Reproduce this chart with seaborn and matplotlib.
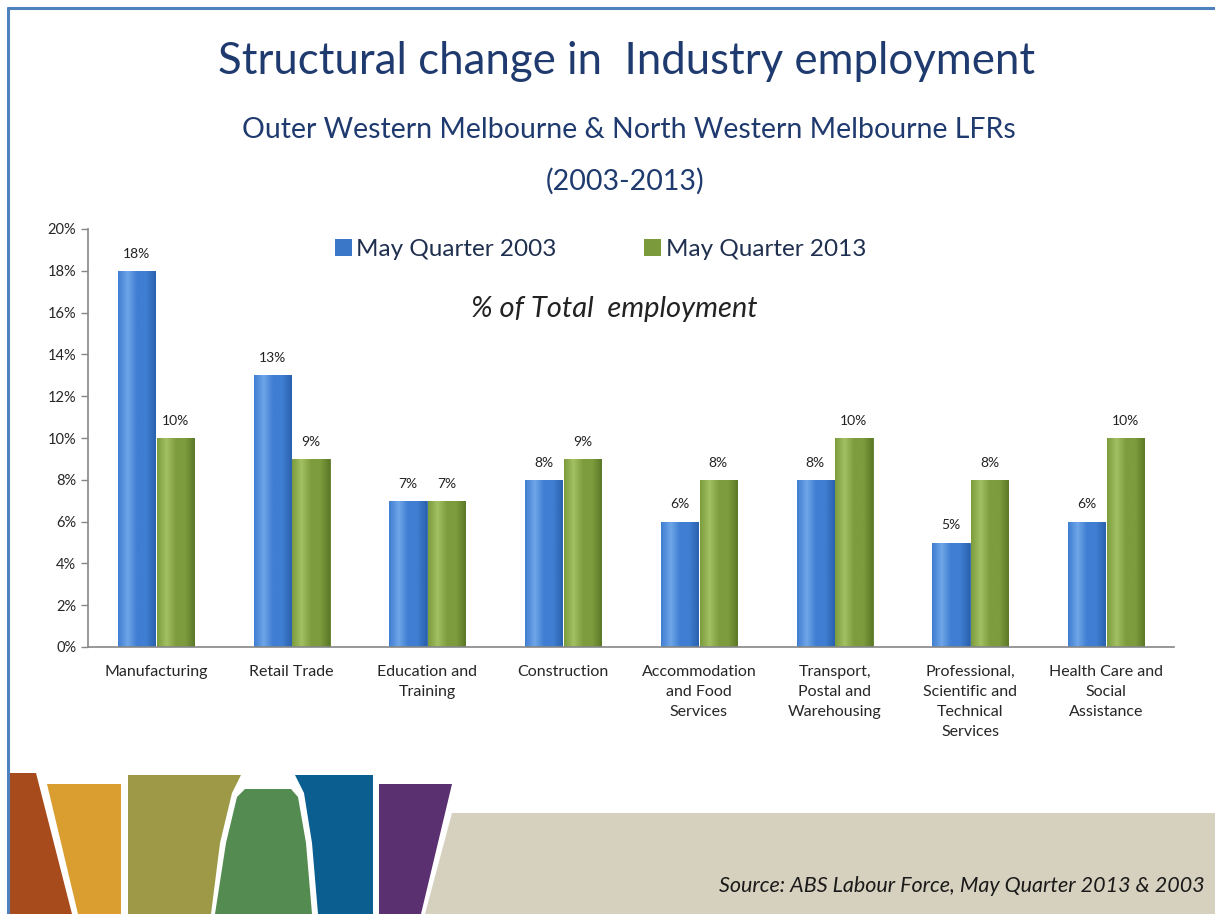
import matplotlib
matplotlib.use("Agg")
import matplotlib.pyplot as plt
import matplotlib.ticker as mtick
from matplotlib.patches import Polygon
from matplotlib.lines import Line2D
import numpy as np
import pandas as pd
import seaborn as sns

# data (% of total employment)
industries = ["Manufacturing", "Retail Trade", "Education and\nTraining", "Construction",
              "Accommodation\nand Food\nServices", "Transport,\nPostal and\nWarehousing",
              "Professional,\nScientific and\nTechnical\nServices", "Health Care and\nSocial\nAssistance"]
may_2003 = [18, 13, 7, 8, 6, 8, 5, 6]
may_2013 = [10, 9, 7, 9, 8, 10, 8, 10]
series_names = ["May Quarter 2003", "May Quarter 2013"]

W, H = 1215, 914

sns.set_theme(style="white")
plt.rcParams['font.family'] = ['Lato', 'DejaVu Sans']

df = pd.DataFrame({
    "Industry": industries * 2,
    "Share": [v / 100 for v in may_2003 + may_2013],
    "Series": [series_names[0]] * len(industries) + [series_names[1]] * len(industries),
})

fig = plt.figure(figsize=(W / 100, H / 100), dpi=100)
ax = fig.add_axes([88 / W, 1 - 647 / H, (1174 - 88) / W, (647 - 229) / H])

sns.barplot(data=df, x="Industry", y="Share", hue="Series", ax=ax,
            palette=["#3A77C8", "#7A9A3B"], width=0.57, gap=0.04,
            edgecolor="none", saturation=1)

# excel-like shading on the bars
shades = {0: ["#6FA6E8", "#3F7ED2", "#2B62AE"], 1: ["#A3C164", "#7D9C3D", "#5C7A27"]}
for ci, cont in enumerate(ax.containers):
    for p in cont.patches:
        x0, y0 = p.get_x(), p.get_y()
        w, h = p.get_width(), p.get_height()
        c = shades[ci]
        cmap = matplotlib.colors.LinearSegmentedColormap.from_list("s", [c[1], c[0], c[1], c[1], c[2]])
        grad = np.linspace(0, 1, 64).reshape(1, -1)
        im = ax.imshow(grad, extent=(x0, x0 + w, y0, y0 + h), aspect="auto", cmap=cmap,
                       origin="lower", zorder=p.get_zorder() + 0.1)
        im.set_clip_path(p)
        p.set_edgecolor(c[2])
        p.set_linewidth(0.6)

for ci, cont in enumerate(ax.containers):
    vals = may_2003 if ci == 0 else may_2013
    ax.bar_label(cont, labels=[f"{v}%" for v in vals], padding=8, fontsize=10, color="#222222")

ax.set_xlim(-0.5, len(industries) - 0.5)
ax.set_ylim(0, 0.20)
ax.yaxis.set_major_locator(mtick.MultipleLocator(0.02))
ax.yaxis.set_major_formatter(mtick.PercentFormatter(1.0, decimals=0))
ax.set_xlabel("")
ax.set_ylabel("")
ax.set_xticks(range(len(industries)))
ax.set_xticklabels(industries, fontsize=11.5, linespacing=1.55, va="top")
ax.set_xticks(np.arange(-0.5, len(industries), 1), minor=True)
ax.tick_params(axis="x", which="major", length=0, pad=13)
ax.tick_params(axis="x", which="minor", length=6, width=1, color="#868686", direction="out")
ax.tick_params(axis="y", length=5, width=1, color="#868686", direction="out", labelsize=10.5, left=True)
for s in ["top", "right"]:
    ax.spines[s].set_visible(False)
for s in ["left", "bottom"]:
    ax.spines[s].set_color("#868686")
    ax.spines[s].set_linewidth(1.2)

leg = ax.legend(loc="center", bbox_to_anchor=(0.472, 0.95), ncol=2, frameon=False,
                fontsize=17.5, handlelength=0.7, handleheight=0.7, handletextpad=0.2,
                columnspacing=3.6)
for t in leg.get_texts():
    t.set_color("#1F2F4F")

ax.text(0.485, 0.809, "% of Total  employment", transform=ax.transAxes, ha="center", va="center",
        fontsize=21, style="italic", color="#222222")

navy = "#1F3A6E"
fig.text(627 / W, 1 - 62 / H, "Structural change in  Industry employment", ha="center", va="center",
         fontsize=31.5, color=navy)
fig.text(629 / W, 1 - 130 / H, "Outer Western Melbourne & North Western Melbourne LFRs", ha="center",
         va="center", fontsize=20.5, color=navy)
fig.text(625 / W, 1 - 181 / H, "(2003-2013)", ha="center", va="center", fontsize=20.5, color=navy)

# decorative footer shapes (pixel coords, y from top)
def px(points):
    return [(x / W, 1 - y / H) for x, y in points]

shapes = [
    ([(8, 773), (36, 773), (72, 914), (8, 914)], "#A84B1C"),
    ([(47, 784), (121, 784), (121, 914), (78, 914)], "#D99E2F"),
    ([(128, 775), (241, 775), (232, 793), (220, 843), (211, 914), (128, 914)], "#9D9946"),
    ([(215, 914), (226, 843), (237, 797), (245, 789), (291, 789), (298, 797), (306, 843), (312, 914)], "#548B50"),
    ([(295, 775), (373, 775), (373, 914), (318, 914), (312, 843), (304, 793)], "#0B5E90"),
    ([(379, 784), (452, 784), (421, 914), (379, 914)], "#5A3070"),
    ([(452, 813), (1215, 813), (1215, 914), (425, 914)], "#D6D0BE"),
]
for pts, col in shapes:
    fig.patches.append(Polygon(px(pts), closed=True, facecolor=col, edgecolor="none",
                               transform=fig.transFigure, figure=fig))

fig.text(1205 / W, 1 - 886 / H, "Source: ABS Labour Force, May Quarter 2013 & 2003", ha="right",
         va="center", fontsize=15.5, style="italic", color="#1A1A1A")

# slide border
fig.lines.append(Line2D([8 / W, 8 / W], [0, 1 - 8 / H], transform=fig.transFigure,
                        color="#4F81BD", linewidth=2.2, figure=fig))
fig.lines.append(Line2D([8 / W, 1], [1 - 8 / H, 1 - 8 / H], transform=fig.transFigure,
                        color="#4F81BD", linewidth=2.2, figure=fig))

fig.savefig("out.png", dpi=100)
